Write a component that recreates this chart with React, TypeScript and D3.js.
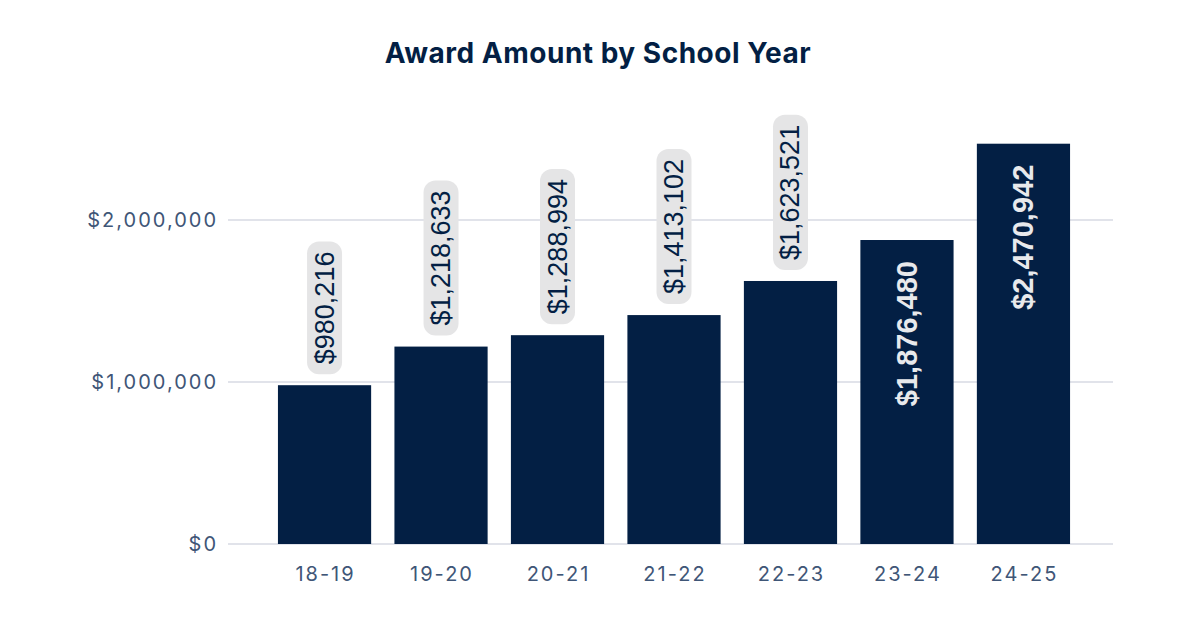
import * as d3 from "d3";
import React, { useRef, useEffect } from 'react'

const years = ["18-19", "19-20", "20-21", "21-22", "22-23", "23-24", "24-25"]
const awards = [980216, 1218633, 1288994, 1413102, 1623521, 1876480, 2470942]
const insideLabel = [false, false, false, false, false, true, true]
const yTicks = [0, 1000000, 2000000]

const W = 1200
const H = 630
const navy = "#031f44"
const slate = "#3f5677"

const App: React.FC = () => {
  const gLabels = useRef<SVGGElement>(null)

  const x = d3.scaleBand(years, [243, 1105]).paddingInner(0.2).paddingOuter(0.3)
  const y = d3.scaleLinear([0, 2500000], [544, 139])
  const money = d3.format("$,")

  // label boxes need the text length, so draw them after mount
  useEffect(() => {
    if (!gLabels.current) return
    const g = d3.select(gLabels.current)
    g.selectAll("*").remove()
    years.forEach((yr, i) => {
      const cx = (x(yr) as number) + x.bandwidth() / 2
      const top = y(awards[i])
      if (insideLabel[i]) {
        g.append("text")
          .attr("transform", `translate(${cx}, ${top + 21}) rotate(-90)`)
          .attr("text-anchor", "end")
          .attr("dominant-baseline", "central")
          .attr("font-family", "'Liberation Sans', Arial, sans-serif")
          .attr("font-weight", 700)
          .attr("font-size", 29)
          .attr("fill", "#e8e9ec")
          .text(money(awards[i]))
        return
      }
      const bottom = top - 11
      const pad = 10
      const box = g.append("rect")
      const t = g.append("text")
        .attr("transform", `translate(${cx}, ${bottom - pad}) rotate(-90)`)
        .attr("text-anchor", "start")
        .attr("dominant-baseline", "central")
        .attr("font-family", "'Liberation Sans', Arial, sans-serif")
        .attr("font-size", 27)
        .attr("fill", navy)
        .text(money(awards[i]))
      const len = (t.node() as SVGTextElement).getComputedTextLength()
      box.attr("x", cx - 17.5)
        .attr("y", bottom - len - pad * 2)
        .attr("width", 35)
        .attr("height", len + pad * 2)
        .attr("rx", 12)
        .attr("fill", "#e5e5e6")
    })
  }, [])

  return (
    <svg width={W} height={H} style={{ display: "block", margin: "-8px", background: "#fff" }}>
      <text x={598} y={63} textAnchor="middle" fontFamily="Inter, sans-serif" fontWeight={700}
        fontSize={28} letterSpacing={0.5} fill={navy}>Award Amount by School Year</text>

      {yTicks.map(t => (
        <g key={t}>
          <line x1={228} x2={1113} y1={y(t)} y2={y(t)} stroke="#c3c8d5" strokeWidth={1.2} />
          <text x={218} y={y(t)} textAnchor="end" dominantBaseline="central" letterSpacing={2}
            fontFamily="Inter, sans-serif" fontSize={20} fill={slate}>{money(t)}</text>
        </g>
      ))}

      {years.map((yr, i) => (
        <rect key={yr} x={x(yr)} y={y(awards[i])} width={x.bandwidth()}
          height={y(0) - y(awards[i])} fill={navy} />
      ))}

      {years.map(yr => (
        <text key={yr} x={(x(yr) as number) + x.bandwidth() / 2 + 1} y={574} textAnchor="middle"
          dominantBaseline="central" letterSpacing={2} fontFamily="Inter, sans-serif" fontSize={20}
          fill={slate}>{yr}</text>
      ))}

      <g ref={gLabels} />
    </svg>
  )
}

export default App
